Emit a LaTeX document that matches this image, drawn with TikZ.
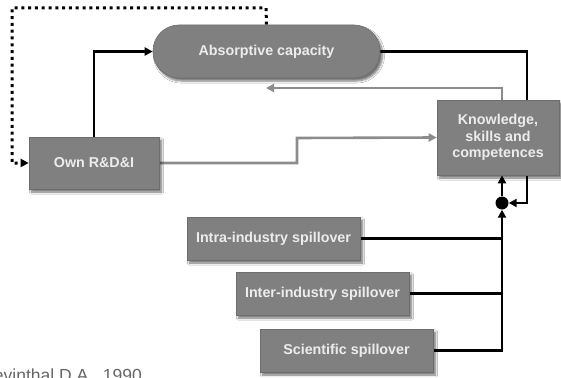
\documentclass[tikz,border=0pt]{standalone}
\usepackage{fontspec}
\setmainfont{Liberation Sans}
\usetikzlibrary{arrows.meta,shadows,shadows.blur}
\pgfdeclarelayer{bg}
\pgfsetlayers{bg,main}
\definecolor{boxfill}{RGB}{128,128,128}
\definecolor{boxtext}{RGB}{236,236,236}
\definecolor{linkgray}{RGB}{140,140,140}
\tikzset{
  block/.style={draw=boxfill!85!black, line width=0.6pt, fill=boxfill,
    text=boxtext, font=\bfseries\fontsize{14.3}{16.5}\selectfont,
    align=center, inner sep=2pt,
    blur shadow={shadow xshift=2.5pt, shadow yshift=-3pt, shadow opacity=55, shadow blur steps=6}},
  pill/.style={block, rounded corners=26pt},
  tip/.style={-{Triangle[length=8pt,width=8pt]}},
  blk/.style={draw=black, line width=2.6pt},
  gry/.style={draw=linkgray, line width=2.6pt},
  dotline/.style={draw=black, line width=3pt, dash pattern=on 3pt off 3.8pt},
}
\begin{document}
\begin{tikzpicture}[x=1pt,y=-1pt]
\useasboundingbox (0,0) rectangle (561,377);
\clip (0,0) rectangle (561,377);

% boxes
\node[pill, minimum width=227pt, minimum height=53pt] (absorb) at (266.5,51.5) {Absorptive capacity};
\node[block, minimum width=130pt, minimum height=52pt] (own) at (94,163) {Own R\&D\&I};
\node[block, minimum width=122pt, minimum height=75pt] (know) at (498,137.5) {Knowledge,\\skills and\\competences};
\node[block, minimum width=173pt, minimum height=43pt] (intra) at (273.5,238.5) {Intra-industry spillover};
\node[block, minimum width=173pt, minimum height=43pt] (inter) at (322.5,293.5) {Inter-industry spillover};
\node[block, minimum width=173pt, minimum height=43pt] (sci) at (346.5,350.5) {Scientific spillover};
\node[circle, fill=black, minimum size=13pt, inner sep=0pt] (dot) at (502,203) {};

% reference line at the foot, running off the page
\node[anchor=base east, text=black!60, font=\fontsize{17.5}{19}\selectfont, inner sep=0pt] (src) at (142,381) {Levinthal D.A., 1990};

% helper corners
\coordinate (dtop) at (266,8);
\coordinate (dleft) at (12,8);
\coordinate (g1) at (297,163);
\coordinate (g2) at (297,138);
\coordinate (gtip) at (266,88);
\coordinate (bcorner) at (527,203);

\begin{pgfonlayer}{bg}
  \fill[white] (0,0) rectangle (561,377);
  % feedback from absorptive capacity to own R&D&I
  \draw[dotline, tip] (absorb.north) -- (dtop) -- (dleft) |- (own.west);
  % own R&D&I feeds absorptive capacity
  \draw[blk, tip] (own.north) |- (absorb.west);
  % own R&D&I feeds knowledge
  \draw[gry, tip] (own.east) -- (g1) -- (g2) -- (know.west);
  % knowledge back towards absorptive capacity
  \draw[gry, tip] (know.north -| dot) |- (gtip);
  % absorptive capacity into the junction
  \draw[blk, tip] (absorb.east) -| (bcorner) -- (dot.east);
  % junction into knowledge
  \draw[blk, tip] (dot.north) -- (dot.north |- know.south);
  % spillovers into the junction
  \draw[blk] (intra.east) -- (intra.east -| dot);
  \draw[blk] (inter.east) -- (inter.east -| dot);
  \draw[blk, tip] (sci.east) -| (dot.south);
\end{pgfonlayer}
\end{tikzpicture}
\end{document}
